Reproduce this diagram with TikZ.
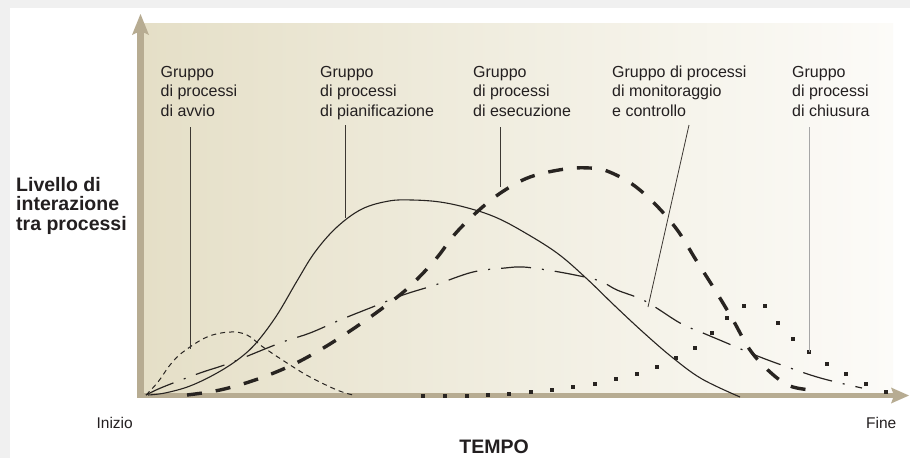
\documentclass[tikz,border=0pt]{standalone}
\usepackage{fontspec}
\setmainfont{Liberation Sans}
\definecolor{framegray}{RGB}{240,240,240}
\definecolor{axiscol}{RGB}{183,172,146}
\definecolor{tanA}{RGB}{229,223,199}
\definecolor{tanB}{RGB}{241,238,225}
\definecolor{tanC}{RGB}{252,251,248}
\definecolor{ink}{RGB}{40,36,33}
\definecolor{txt}{RGB}{35,31,32}
\definecolor{ptrcol}{RGB}{60,55,50}
\tikzset{
  grouplabel/.style={font=\fontsize{16}{19.5}\selectfont, align=left, inner sep=0pt, text=txt, anchor=base west},
  axislabel/.style={font=\fontsize{15.5}{18}\selectfont, inner sep=0pt, text=txt},
  boldlabel/.style={font=\fontsize{19.5}{19}\selectfont\bfseries, inner sep=0pt, text=txt},
  pointer/.style={draw=ptrcol, line width=0.8pt},
  curveA/.style={draw=ink, line width=1pt, dash pattern=on 5pt off 4pt},
  curveB/.style={draw=ink, line width=1.1pt},
  curveC/.style={draw=ink, line width=3.4pt, dash pattern=on 15pt off 14pt},
  curveD/.style={draw=ink, line width=1.2pt, dash pattern=on 30pt off 11pt on 2pt off 11pt},
}
\begin{document}
\begin{tikzpicture}[x=1pt,y=-1pt]
\useasboundingbox (0,0) rectangle (910,458);
\fill[framegray] (0,0) rectangle (910,458);
\fill[white] (10,8) rectangle (910,458);
% background gradient
\shade[left color=tanA,right color=tanB] (144,23) rectangle (520.5,393);
\shade[left color=tanB,right color=tanC] (520,23) rectangle (893,393);
% axes
\fill[axiscol] (137.3,30) rectangle (143.7,398);
\fill[axiscol] (140.5,14) -- (149,35) -- (140.5,31) -- (132,35) -- cycle;
\fill[axiscol] (137,393) rectangle (896,398);
\fill[axiscol] (909,395.5) -- (891,387.5) -- (894,395.5) -- (891,403.5) -- cycle;

% curves
\path[curveA] plot[smooth,tension=0.6] coordinates {(146,395) (158,382) (170,365) (183,352) (207,337) (230,332) (247,335) (263,347) (287,363) (310,377) (337,390) (353,395)};
\path[curveB] plot[smooth,tension=0.6] coordinates {(148,395) (165,393) (190,386) (217,373) (240,358) (257,342) (277,315) (297,281) (315,252) (337,227) (362,209) (389,201) (412,200) (440,202) (468,208) (495,217) (522,231) (557,253) (586,278) (615,306) (644,333) (673,358) (702,379) (740,397)};
\path[curveC] plot[smooth,tension=0.6] coordinates {(187,395) (220,390) (255,380) (290,366) (320,350) (350,331) (380,310) (408,288) (435,260) (455,234) (478,211) (502,192) (530,177) (565,169) (590,168) (607,171) (632,184) (656,205) (678,231) (696,260) (715,290) (733,320) (750,350) (770,372) (790,386) (812,390)};
\path[curveD] plot[smooth,tension=0.6] coordinates {(146,395) (163,387) (200,373) (230,363) (280,343) (310,333) (340,320) (370,308) (403,295) (435,285) (473,272) (505,268) (523,267) (547,270) (575,275) (600,281) (617,290) (645,301) (680,323) (703,333) (722,341) (760,357) (793,369) (817,377) (840,383) (862,388)};
\foreach \p in {(423,396),(445,396),(467,396),(488,395),(509,394),(531,392),(552,390),(573,387),(595,384),(616,379),(637,374),(657,367),(676,358),(695,348),(712,333),(727,318),(744,306),(765,306),(778,323),(793,339),(809,352),(827,364),(846,374),(866,384),(886,392)}
  \fill[ink] \p ++(-2,-2) rectangle ++(4,4);

% labels (base anchor = baseline of last line)
\node[grouplabel] (gA) at (160.5,116) {Gruppo\\di processi\\di avvio};
\node[grouplabel] (gB) at (320,116) {Gruppo\\di processi\\di pianificazione};
\node[grouplabel] (gC) at (473,116) {Gruppo\\di processi\\di esecuzione};
\node[grouplabel] (gD) at (612,116) {Gruppo di processi\\di monitoraggio\\e controllo};
\node[grouplabel] (gE) at (792,116) {Gruppo\\di processi\\di chiusura};

% pointers
\coordinate (pA1) at (190.5,127); \coordinate (pA2) at (190.5,349);
\coordinate (pB1) at (345,125); \coordinate (pB2) at (345,218);
\coordinate (pC1) at (500,127); \coordinate (pC2) at (500,187);
\coordinate (pD1) at (689,125); \coordinate (pD2) at (648,307);
\coordinate (pE1) at (809.5,127); \coordinate (pE2) at (809.5,352);
\draw[pointer] (pA1) -- (pA2);
\draw[pointer] (pB1) -- (pB2);
\draw[pointer] (pC1) -- (pC2);
\draw[pointer] (pD1) -- (pD2);
\draw[pointer, draw=gray!70] (pE1) -- (pE2);

\node[boldlabel, align=left, anchor=base west, font=\fontsize{19.5}{19.2}\selectfont\bfseries] (ylab) at (16,230) {Livello di\\interazione\\tra processi};
\node[axislabel, anchor=base east] (inizio) at (133,428) {Inizio};
\node[axislabel, anchor=base west] (fine) at (866,428) {Fine};
\node[boldlabel, anchor=base] (tempo) at (494,453) {TEMPO};
\end{tikzpicture}
\end{document}
